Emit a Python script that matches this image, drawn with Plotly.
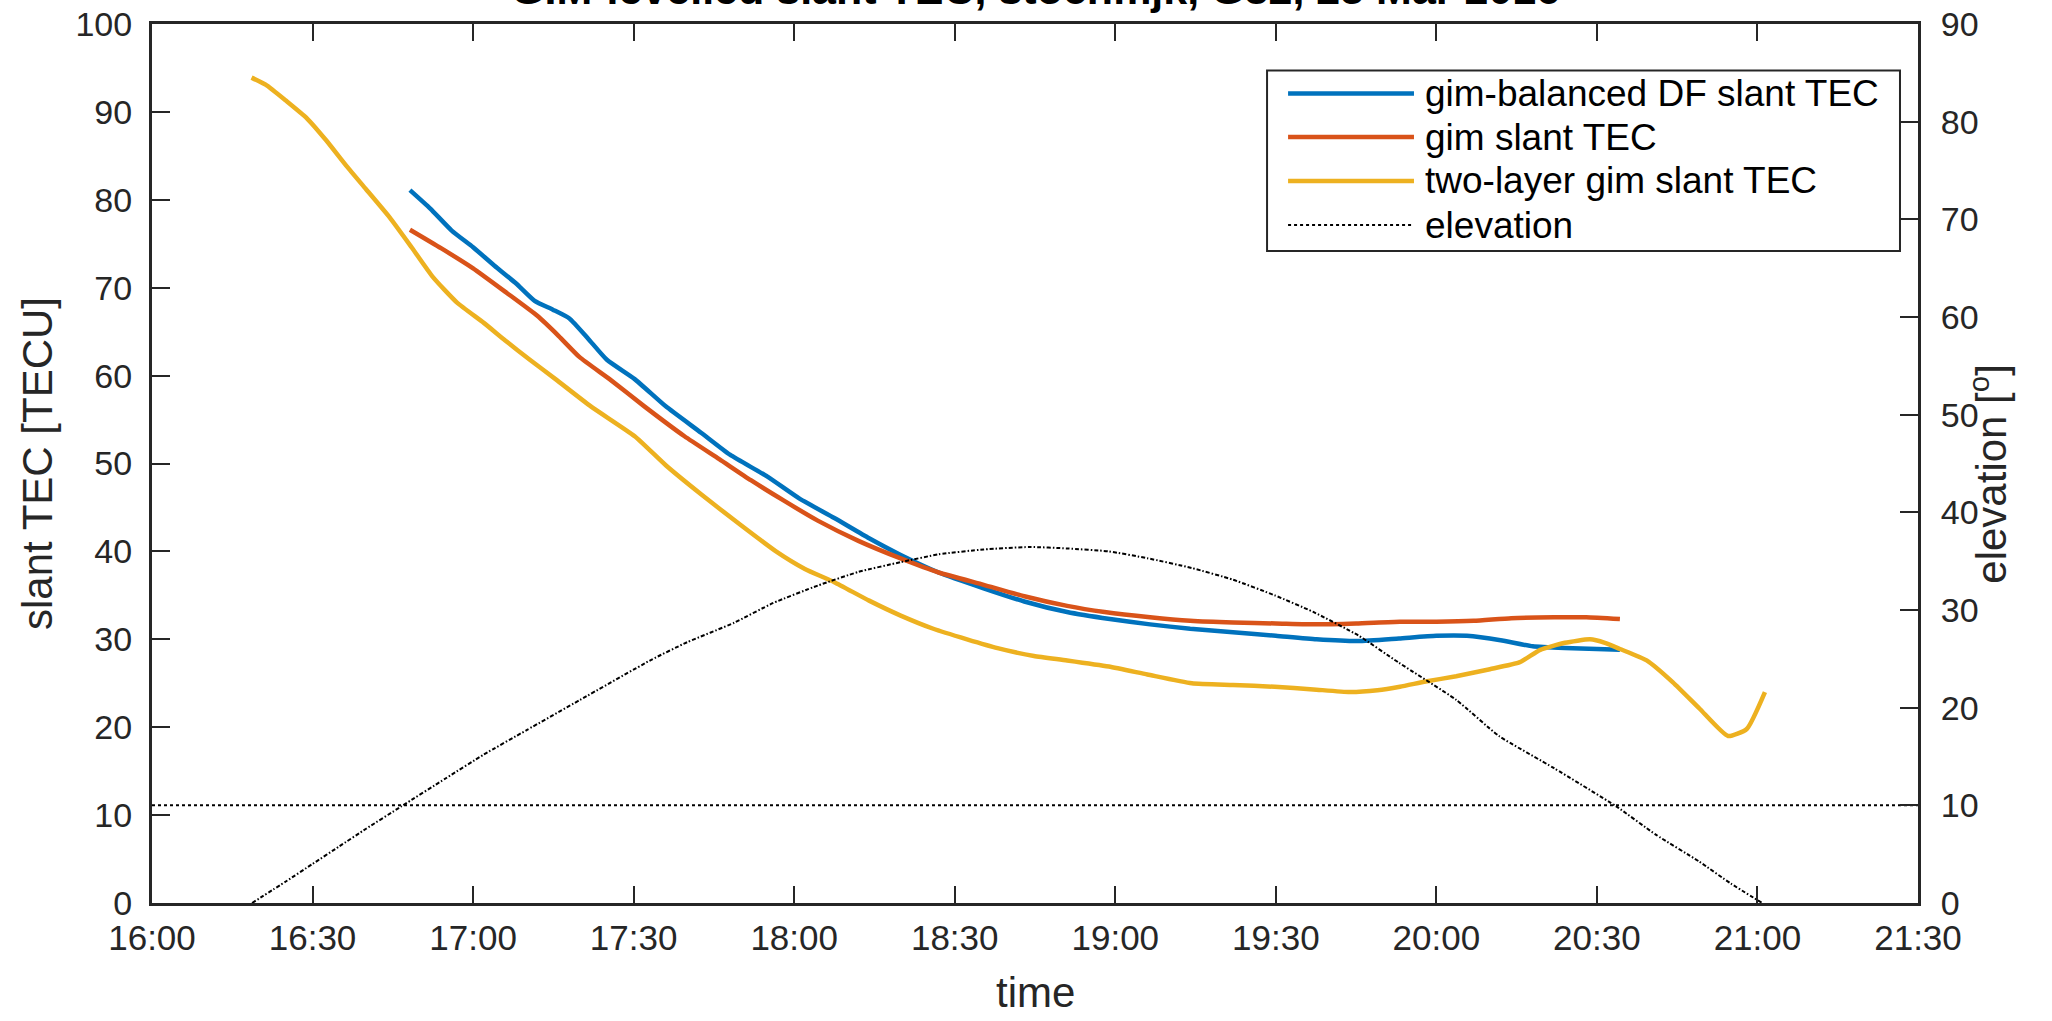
import pandas as pd
import plotly.graph_objects as go

# ---- data (time in minutes after 16:00, 25 Mar 2016) ----
T0 = "2016-03-25 16:00:00"

two_layer_t = [18.6, 21.5, 25, 28.9, 32.5, 36.4, 40, 44.4, 48.5, 52.5, 57, 62, 66, 70.6, 75.4,
               82, 90.2, 96, 102.6, 110, 116.6, 122, 127.5, 134, 139.9, 146, 152.3, 158, 164.8,
               171, 178.8, 186, 194.3, 202, 209.8, 217, 223.8, 229, 233.2, 238, 243.7, 250,
               255.6, 259.4, 264, 268.7, 271.5, 274.3, 279.3, 284.2, 289.2, 294.5, 298, 301.4]
two_layer_v = [93.9, 93.0, 91.3, 89.3, 86.8, 83.8, 81.2, 78.0, 74.6, 71.2, 68.3, 66.0, 64.0, 61.8, 59.6,
               56.5, 53.1, 49.8, 46.5, 43.0, 40.0, 38.0, 36.5, 34.4, 32.7, 31.2, 30.0, 29.0, 28.1,
               27.6, 26.9, 26.0, 25.0, 24.8, 24.6, 24.3, 24.0, 24.2, 24.6, 25.2, 25.8, 26.6,
               27.4, 28.8, 29.6, 30.0, 29.6, 28.9, 27.6, 25.1, 22.1, 19.0, 19.8, 24.0]

df_t = [48.2, 52, 56, 60, 64, 68, 71.5, 74.9, 78, 81.5, 85, 90.2, 96, 102.6, 108, 115, 121,
        127.5, 134, 139.9, 147, 155.4, 163, 171, 179, 186.5, 194, 202, 210, 217.6, 225.4,
        233, 240, 245.7, 252, 258, 264, 270, 274.3]
df_v = [81.1, 79.0, 76.5, 74.6, 72.5, 70.5, 68.5, 67.5, 66.5, 64.2, 61.8, 59.6, 56.5, 53.5, 51.0,
        48.5, 46.0, 43.8, 41.5, 39.6, 37.6, 35.8, 34.3, 33.1, 32.3, 31.7, 31.2, 30.8, 30.4,
        30.0, 29.8, 30.1, 30.4, 30.4, 29.9, 29.2, 29.0, 28.9, 28.8]

gim_t = [48.2, 54, 60, 66.3, 72, 76, 79.9, 85.5, 92, 99.5, 106, 111.9, 118, 124.4, 132, 139.9,
         147, 155.4, 163, 171, 178, 186.5, 194, 202, 210, 217.6, 225, 233.2, 240, 247, 254,
         262, 268, 274.3]
gim_v = [76.6, 74.5, 72.2, 69.4, 66.8, 64.5, 62.1, 59.6, 56.5, 53.1, 50.5, 48.1, 45.8, 43.5,
         41.2, 39.2, 37.6, 36.2, 34.9, 33.8, 33.1, 32.5, 32.1, 31.9, 31.8, 31.7, 31.8, 32.0,
         32.0, 32.1, 32.4, 32.5, 32.5, 32.3]

elev_t = [18.7, 25, 30, 35, 40, 46.6, 55, 62, 70, 80, 93.3, 100, 108.8, 116, 124.4, 132, 139.9,
          147, 155.4, 164, 171, 178.8, 186, 194.3, 202, 209.8, 217, 225.4, 233, 243.7, 251.7,
          262, 273.6, 281, 289.1, 295, 300.9]
elev_v = [0, 2.2, 4.0, 5.8, 7.6, 9.9, 12.8, 15.2, 17.7, 20.8, 24.9, 26.7, 28.7, 30.7, 32.5, 33.9,
          34.9, 35.7, 36.2, 36.45, 36.3, 36.0, 35.3, 34.3, 33.1, 31.5, 29.8, 27.4, 24.6, 20.8,
          17.1, 13.8, 9.9, 7.0, 4.25, 2.0, 0]

mask_t = [0, 330]
mask_v = [10, 10]

tick_t = [0, 30, 60, 90, 120, 150, 180, 210, 240, 270, 300, 330]
tick_text = ["16:00", "16:30", "17:00", "17:30", "18:00", "18:30", "19:00",
             "19:30", "20:00", "20:30", "21:00", "21:30"]

legend_names = ["gim-balanced DF slant TEC", "gim slant TEC",
                "two-layer gim slant TEC", "elevation"]
colors = ["#0072BD", "#D95319", "#EDB120", "black"]


def to_time(mins):
    return list(pd.Timestamp(T0) + pd.to_timedelta(mins, unit="min"))


FONT = "Liberation Sans, Arial, sans-serif"
TXT = "#262626"
AX = "#262626"
ELEV_DASH = "4px,2px,1.5px,2px"

fig = go.Figure()
series = [(df_t, df_v), (gim_t, gim_v), (two_layer_t, two_layer_v)]
for (t, v), name, c in zip(series, legend_names[:3], colors[:3]):
    fig.add_trace(go.Scatter(x=to_time(t), y=v, mode="lines", name=name, showlegend=False,
                             line=dict(color=c, width=4.5, shape="spline", smoothing=0.5)))
fig.add_trace(go.Scatter(x=to_time(elev_t), y=elev_v, mode="lines", yaxis="y2",
                         name=legend_names[3], showlegend=False,
                         line=dict(color="black", width=2, dash=ELEV_DASH,
                                   shape="spline", smoothing=0.5)))
fig.add_trace(go.Scatter(x=to_time(mask_t), y=mask_v, mode="lines", yaxis="y2",
                         showlegend=False,
                         line=dict(color="black", width=2, dash="dot")))

tickvals = to_time(tick_t)

# ---- legend drawn as a boxed key (paper coordinates) ----
shapes = [dict(type="rect", xref="paper", yref="paper", x0=0.6314, x1=0.9898,
               y0=0.7418, y1=0.9470, line=dict(color=AX, width=2), fillcolor="white",
               layer="above")]
row_y = [0.9208, 0.8714, 0.8214, 0.7713]
annotations = []
for ry, name, c in zip(row_y, legend_names, colors):
    is_elev = name == "elevation"
    shapes.append(dict(type="line", xref="paper", yref="paper", x0=0.6433, x1=0.7146,
                       y0=ry, y1=ry, layer="above",
                       line=dict(color=c, width=2 if is_elev else 4.5,
                                 dash="dot" if is_elev else "solid")))
    annotations.append(dict(text=name, xref="paper", yref="paper", x=0.7195, y=ry,
                            xanchor="left", yanchor="middle", showarrow=False,
                            font=dict(size=37, color="black", family=FONT)))

annotations.append(dict(text="<b>GIM-levelled slant TEC, stochmjk, G32, 25 Mar 2016</b>",
                        xref="paper", yref="paper", x=0.5, y=1, xanchor="center",
                        yanchor="bottom", yshift=9, showarrow=False,
                        font=dict(size=43, color="black", family=FONT)))
# right-hand axis title
annotations.append(dict(text="elevation [<sup>o</sup>]", xref="paper", yref="paper",
                        x=1.0400, y=0.488, xanchor="center", yanchor="middle", textangle=-90,
                        showarrow=False, font=dict(size=42, color=TXT, family=FONT)))
# x axis title
annotations.append(dict(text="time", xref="paper", yref="paper", x=0.5, y=-0.102,
                        xanchor="center", yanchor="middle", showarrow=False,
                        font=dict(size=42, color=TXT, family=FONT)))

fig.update_layout(
    width=2052, height=1021,
    margin=dict(l=152, r=134, t=24, b=118),
    paper_bgcolor="white", plot_bgcolor="white",
    font=dict(family=FONT, color=TXT, size=34),
    showlegend=False,
    xaxis=dict(range=[tickvals[0], tickvals[-1]], tickvals=tickvals, ticktext=tick_text,
               showgrid=False, zeroline=False, showline=True, linecolor=AX, linewidth=3,
               mirror="ticks", ticks="inside", ticklen=17, tickwidth=2, tickcolor=AX,
               ticklabelstandoff=2, automargin=False, tickfont=dict(size=35),
               ticklabeloverflow="allow"),
    yaxis=dict(range=[0, 100], dtick=10, showgrid=False, zeroline=False, showline=True,
               linecolor=AX, linewidth=3, ticks="inside", ticklen=18, tickwidth=2,
               tickcolor=AX, ticklabelstandoff=10, automargin=False,
               ticklabeloverflow="allow",
               title=dict(text="slant TEC [TECU]", font=dict(size=42, color=TXT), standoff=10)),
    yaxis2=dict(range=[0, 90], dtick=10, overlaying="y", side="right", showgrid=False,
                zeroline=False, showline=True, linecolor=AX, linewidth=3, ticks="inside",
                ticklen=18, tickwidth=2, tickcolor=AX, ticklabelstandoff=13, automargin=False,
                ticklabeloverflow="allow"),
    shapes=shapes,
    annotations=annotations,
)

# remove the default 8px page margin so the figure fills the window exactly
fig.write_html("out.html", config={"displayModeBar": False},
               post_script="document.body.style.margin='0';document.body.style.overflow='hidden';")
